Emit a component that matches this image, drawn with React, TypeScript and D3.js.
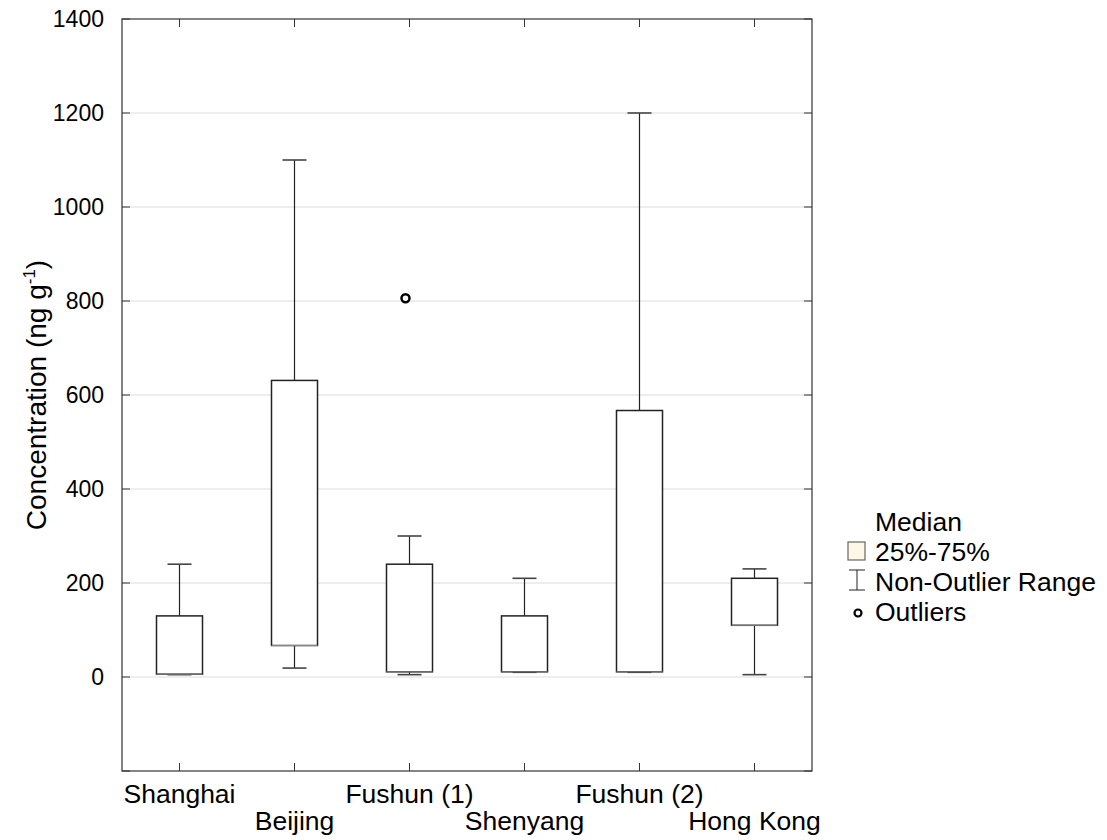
import { useEffect, useRef } from 'react';
import * as d3 from 'd3';

const sites = ['Shanghai', 'Beijing', 'Fushun (1)', 'Shenyang', 'Fushun (2)', 'Hong Kong'];
const whiskerLow = [5, 19, 5, 10, 10, 5];
const boxLow = [6, 67, 11, 11, 11, 110];
const medians = [6, 67, 11, 11, 11, 110];
const boxHigh = [130, 631, 240, 130, 567, 210];
const whiskerHigh = [240, 1100, 300, 210, 1200, 230];
const outliers = [{ site: 'Fushun (1)', value: 806 }];
const yTicks = [-200, 0, 200, 400, 600, 800, 1000, 1200, 1400];
const gridValues = [0, 200, 400, 600, 800, 1000, 1200];
const legendLabels = ['Median', '25%-75%', 'Non-Outlier Range', 'Outliers'];

export default function App() {
  const svgRef = useRef<SVGSVGElement>(null);

  useEffect(() => {
    if (!svgRef.current) return;
    const svg = d3.select(svgRef.current);
    svg.selectAll('*').remove();

    const left = 122, right = 812, top = 19, bottom = 771;
    const font = 'Arial, "Liberation Sans", sans-serif';

    const x = d3.scaleBand<string>().domain(sites).range([left, right]);
    const cx = (s: string) => (x(s) || 0) + x.bandwidth() / 2;
    const y = d3.scaleLinear().domain([-200, 1400]).range([bottom, top]);

    const rows = sites.map((s, i) => ({
      site: s,
      lo: whiskerLow[i],
      q1: boxLow[i],
      med: medians[i],
      q3: boxHigh[i],
      hi: whiskerHigh[i],
      row: i % 2,
    }));

    // grid
    svg.append('g')
      .selectAll('line')
      .data(gridValues)
      .enter()
      .append('line')
      .attr('x1', left).attr('x2', right)
      .attr('y1', d => y(d)).attr('y2', d => y(d))
      .attr('stroke', '#dcdcdc')
      .attr('stroke-width', 1);

    // frame
    svg.append('rect')
      .attr('x', left).attr('y', top)
      .attr('width', right - left).attr('height', bottom - top)
      .attr('fill', 'none')
      .attr('stroke', '#333')
      .attr('stroke-width', 1.2);

    // inward ticks on all four sides
    const tk = 8;
    yTicks.forEach(v => {
      svg.append('line').attr('x1', left).attr('x2', left + tk)
        .attr('y1', y(v)).attr('y2', y(v)).attr('stroke', '#333');
      svg.append('line').attr('x1', right).attr('x2', right - tk)
        .attr('y1', y(v)).attr('y2', y(v)).attr('stroke', '#333');
    });
    sites.forEach(s => {
      svg.append('line').attr('x1', cx(s)).attr('x2', cx(s))
        .attr('y1', bottom).attr('y2', bottom - tk).attr('stroke', '#333');
      svg.append('line').attr('x1', cx(s)).attr('x2', cx(s))
        .attr('y1', top).attr('y2', top + tk).attr('stroke', '#333');
    });

    // y tick labels
    svg.append('g')
      .selectAll('text')
      .data(yTicks.filter(v => v >= 0))
      .enter()
      .append('text')
      .attr('x', left - 18)
      .attr('y', d => y(d) + 8)
      .attr('text-anchor', 'end')
      .style('font-family', font)
      .style('font-size', '23px')
      .attr('fill', '#000')
      .text(d => d);

    // category labels, staggered
    svg.append('g')
      .selectAll('text')
      .data(rows)
      .enter()
      .append('text')
      .attr('x', d => cx(d.site))
      .attr('y', d => (d.row === 0 ? 803 : 830))
      .attr('text-anchor', 'middle')
      .style('font-family', font)
      .style('font-size', '26.5px')
      .attr('fill', '#000')
      .text(d => d.site);

    // y axis title
    const title = svg.append('text')
      .attr('transform', `translate(46,${(top + bottom) / 2}) rotate(-90)`)
      .attr('text-anchor', 'middle')
      .style('font-family', font)
      .style('font-size', '28px')
      .attr('fill', '#000');
    title.append('tspan').text('Concentration (ng g');
    title.append('tspan').attr('dy', -11).style('font-size', '17px').text('-1');
    title.append('tspan').attr('dy', 11).text(')');

    const bw = 46, cap = 24;
    const g = svg.append('g');

    // whiskers
    rows.forEach(d => {
      const c = cx(d.site);
      g.append('line').attr('x1', c).attr('x2', c)
        .attr('y1', y(d.q3)).attr('y2', y(d.hi)).attr('stroke', '#222').attr('stroke-width', 1.2);
      g.append('line').attr('x1', c).attr('x2', c)
        .attr('y1', y(d.q1)).attr('y2', y(d.lo)).attr('stroke', '#222').attr('stroke-width', 1.2);
      [d.lo, d.hi].forEach(v => {
        g.append('line').attr('x1', c - cap / 2).attr('x2', c + cap / 2)
          .attr('y1', y(v)).attr('y2', y(v))
          .attr('stroke', '#444').attr('stroke-width', 1.6);
      });
    });

    // boxes
    g.selectAll('.box')
      .data(rows)
      .enter()
      .append('rect')
      .attr('class', 'box')
      .attr('x', d => cx(d.site) - bw / 2)
      .attr('y', d => y(d.q3))
      .attr('width', bw)
      .attr('height', d => y(d.q1) - y(d.q3))
      .attr('fill', '#fff')
      .attr('stroke', '#222')
      .attr('stroke-width', 1.5);

    // medians
    g.selectAll('.median')
      .data(rows)
      .enter()
      .append('line')
      .attr('x1', d => cx(d.site) - bw / 2)
      .attr('x2', d => cx(d.site) + bw / 2)
      .attr('y1', d => y(d.med))
      .attr('y2', d => y(d.med))
      .attr('stroke', '#888')
      .attr('stroke-width', 1);

    // outliers
    g.selectAll('.outlier')
      .data(outliers)
      .enter()
      .append('circle')
      .attr('cx', d => cx(d.site) - 4)
      .attr('cy', d => y(d.value))
      .attr('r', 4)
      .attr('fill', '#fff')
      .attr('stroke', '#000')
      .attr('stroke-width', 2.5);

    // legend
    const lg = svg.append('g');
    const lx = 875;
    const ly = [522, 552, 582, 612];
    legendLabels.forEach((label, i) => {
      lg.append('text')
        .attr('x', lx).attr('y', ly[i] + 9)
        .style('font-family', font)
        .style('font-size', '26.5px')
        .attr('fill', '#000')
        .text(label);
    });
    lg.append('rect')
      .attr('x', 848).attr('y', ly[1] - 10)
      .attr('width', 17).attr('height', 18)
      .attr('fill', '#fdf7e6')
      .attr('stroke', '#666')
      .attr('stroke-width', 1.2);
    const ic = 857;
    lg.append('line').attr('x1', ic).attr('x2', ic)
      .attr('y1', ly[2] - 12).attr('y2', ly[2] + 8).attr('stroke', '#222');
    lg.append('line').attr('x1', ic - 8).attr('x2', ic + 8)
      .attr('y1', ly[2] - 12).attr('y2', ly[2] - 12).attr('stroke', '#222');
    lg.append('line').attr('x1', ic - 8).attr('x2', ic + 8)
      .attr('y1', ly[2] + 8).attr('y2', ly[2] + 8).attr('stroke', '#222');
    lg.append('circle')
      .attr('cx', 858).attr('cy', ly[3] + 1)
      .attr('r', 3.5)
      .attr('fill', '#fff')
      .attr('stroke', '#000')
      .attr('stroke-width', 2.2);
  }, []);

  return (
    <svg
      ref={svgRef}
      width={1107}
      height={840}
      style={{ position: 'absolute', left: 0, top: 0, background: '#fff' }}
    />
  );
}
